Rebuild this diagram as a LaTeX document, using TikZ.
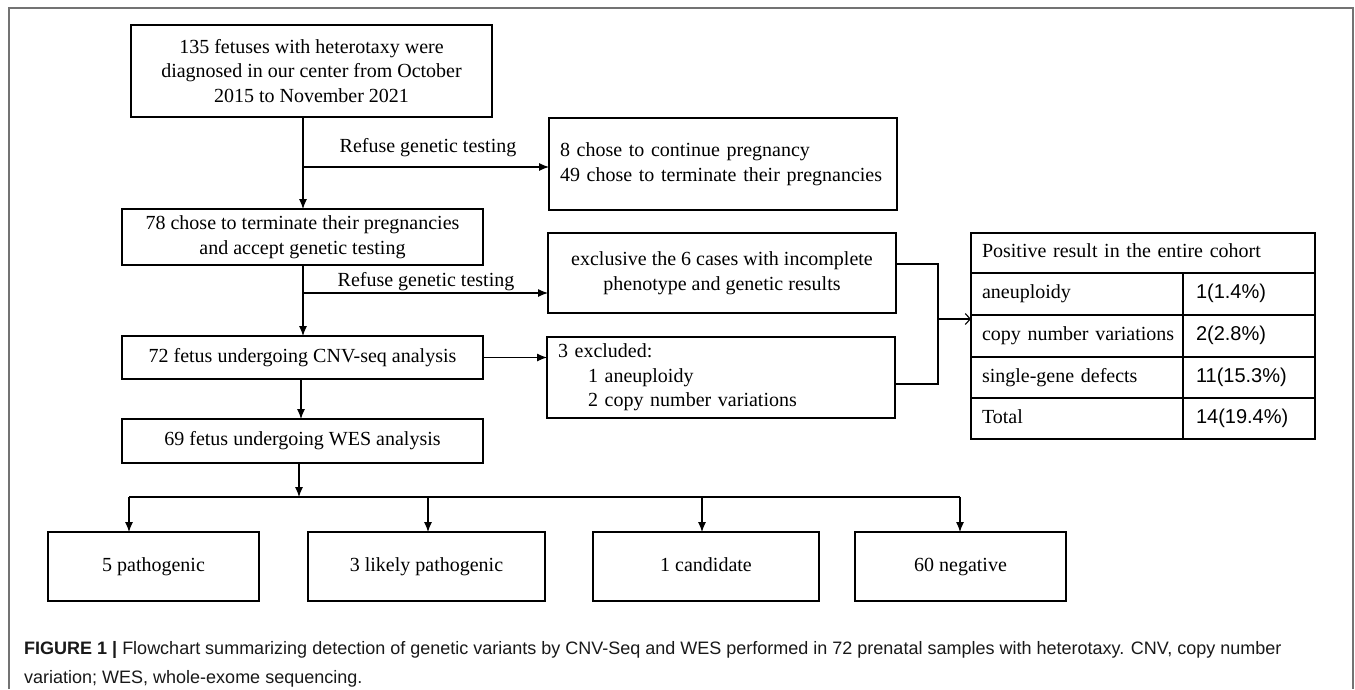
\documentclass[tikz,border=0pt]{standalone}
\usepackage{fontspec}
\setmainfont{Liberation Serif}
\setsansfont{Liberation Sans}
\usetikzlibrary{arrows.meta}
\tikzset{
  box/.style={draw, line width=1.3pt, inner sep=0pt, outer sep=0pt, align=center,
    font=\fontsize{20}{24.5}\selectfont},
  lbox/.style={box, align=left, inner xsep=11pt},
  sline/.style={text height=14pt, text depth=4.5pt},
  cell/.style={draw, line width=1.3pt, inner ysep=0pt, outer sep=0pt, align=left,
    sline, font=\fontsize{20}{24}\selectfont},
  numcell/.style={cell, text width=106pt, inner xsep=13pt, font=\sffamily\fontsize{20}{24}\selectfont},
  txtcell/.style={cell, text width=190pt, inner xsep=11pt},
  arr/.style={-{Latex[length=10pt,width=8pt]}, line width=1.1pt},
  ln/.style={line width=1.1pt},
  oarr/.style={-{Straight Barb[length=5pt,width=11pt]}, line width=1.1pt},
  lbl/.style={anchor=base, inner sep=0pt, font=\fontsize{20}{24}\selectfont},
  capf/.style={anchor=base west, inner sep=0pt, text=black!90,
    font=\sffamily\fontsize{18}{22}\selectfont}
}
\begin{document}
\begin{tikzpicture}[x=1pt,y=-1pt]
\useasboundingbox (0,0) rectangle (1355,689);
\fill[white] (0,0) rectangle (1355,689);
% frame
\draw[black!55, line width=2pt] (9,689) -- (9,8) -- (1353,8) -- (1353,689);

% boxes
\node[box, minimum width=361pt, minimum height=92pt] (b1) at (311.5,71)
  {135 fetuses with heterotaxy were\\diagnosed in our center from October\\2015 to November 2021};
\node[box, minimum width=361pt, minimum height=56pt] (b2) at (302.5,237)
  {78 chose to terminate their pregnancies\\and accept genetic testing};
\node[lbox, text width=326pt, minimum height=92pt] (b3) at (723,164)
  {8 chose to continue pregnancy\\49 chose to terminate their pregnancies};
\node[box, minimum width=348pt, minimum height=80pt] (b4) at (722,273)
  {exclusive the 6 cases with incomplete\\phenotype and genetic results};
\node[box, sline, minimum width=361pt, minimum height=43pt] (b5) at (302.5,357.5)
  {72 fetus undergoing CNV-seq analysis};
\node[lbox, text width=326pt, minimum height=81pt] (b6) at (721,377.5)
  {3 excluded:\\\hspace*{30pt}1 aneuploidy\\\hspace*{30pt}2 copy number variations};
\node[box, sline, minimum width=361pt, minimum height=44pt] (b7) at (302.5,441)
  {69 fetus undergoing WES analysis};

\node[box, sline, minimum width=211pt, minimum height=69pt] (p1) at (153.5,566.5) {5 pathogenic};
\node[box, sline, minimum width=237pt, minimum height=69pt] (p2) at (426.5,566.5) {3 likely pathogenic};
\node[box, sline, minimum width=226pt, minimum height=69pt] (p3) at (706,566.5) {1 candidate};
\node[box, sline, minimum width=211pt, minimum height=69pt] (p4) at (960.5,566.5) {60 negative};

% table
\node[cell, text width=322pt, inner xsep=11pt, minimum height=40pt] (th) at (1143,253)
  {\mbox{Positive result in the entire cohort}};
\node[txtcell, minimum height=42pt] (r1a) at (1077,294) {\mbox{aneuploidy}};
\node[numcell, minimum height=42pt] (r1b) at (1249,294) {1(1.4\%)};
\node[txtcell, minimum height=42pt] (r2a) at (1077,336) {\mbox{copy number variations}};
\node[numcell, minimum height=42pt] (r2b) at (1249,336) {2(2.8\%)};
\node[txtcell, minimum height=41pt] (r3a) at (1077,377.5) {\mbox{single-gene defects}};
\node[numcell, minimum height=41pt] (r3b) at (1249,377.5) {11(15.3\%)};
\node[txtcell, minimum height=41pt] (r4a) at (1077,418.5) {\mbox{Total}};
\node[numcell, minimum height=41pt] (r4b) at (1249,418.5) {14(19.4\%)};

% connectors
\coordinate (s1) at (303,167);
\coordinate (s2) at (303,293);
\coordinate (s5) at (301,0);
\coordinate (s7) at (299,497);
\coordinate (busL) at (129,497);
\coordinate (busR) at (960,497);
\coordinate (q2) at (428,497);
\coordinate (q3) at (702,497);
\coordinate (k4) at (938,264);
\coordinate (k6) at (938,384);
\coordinate (kt) at (938,319);

\draw[arr] (s1 |- b1.south) -- (s1 |- b2.north);
\draw[arr] (s1) -- (s1 -| b3.west);
\node[lbl] (t1) at (428,152) {Refuse genetic testing};
\draw[arr] (s2 |- b2.south) -- (s2 |- b5.north);
\draw[arr] (s2) -- (s2 -| b4.west);
\node[lbl] (t2) at (426,286) {Refuse genetic testing};
\draw[arr] (b5.east) -- (b5.east -| b6.west);
\draw[arr] (s5 |- b5.south) -- (s5 |- b7.north);
\draw[arr] (s7 |- b7.south) -- (s7);
\draw[ln] (busL) -- (busR);
\draw[arr] (busL) -- (busL |- p1.north);
\draw[arr] (q2) -- (q2 |- p2.north);
\draw[arr] (q3) -- (q3 |- p3.north);
\draw[arr] (busR) -- (busR |- p4.north);
\draw[ln] (k4 -| b4.east) -- (k4) -- (k6) -- (k6 -| b6.east);
\draw[oarr] (kt) -- (kt -| th.west);

% caption
\node[capf] (cap1) at (24,654) {\textbf{FIGURE 1 |} Flowchart summarizing detection of genetic variants by CNV-Seq and WES performed in 72 prenatal samples with heterotaxy. CNV, copy number};
\node[capf] (cap2) at (24,683) {variation; WES, whole-exome sequencing.};
\end{tikzpicture}
\end{document}
